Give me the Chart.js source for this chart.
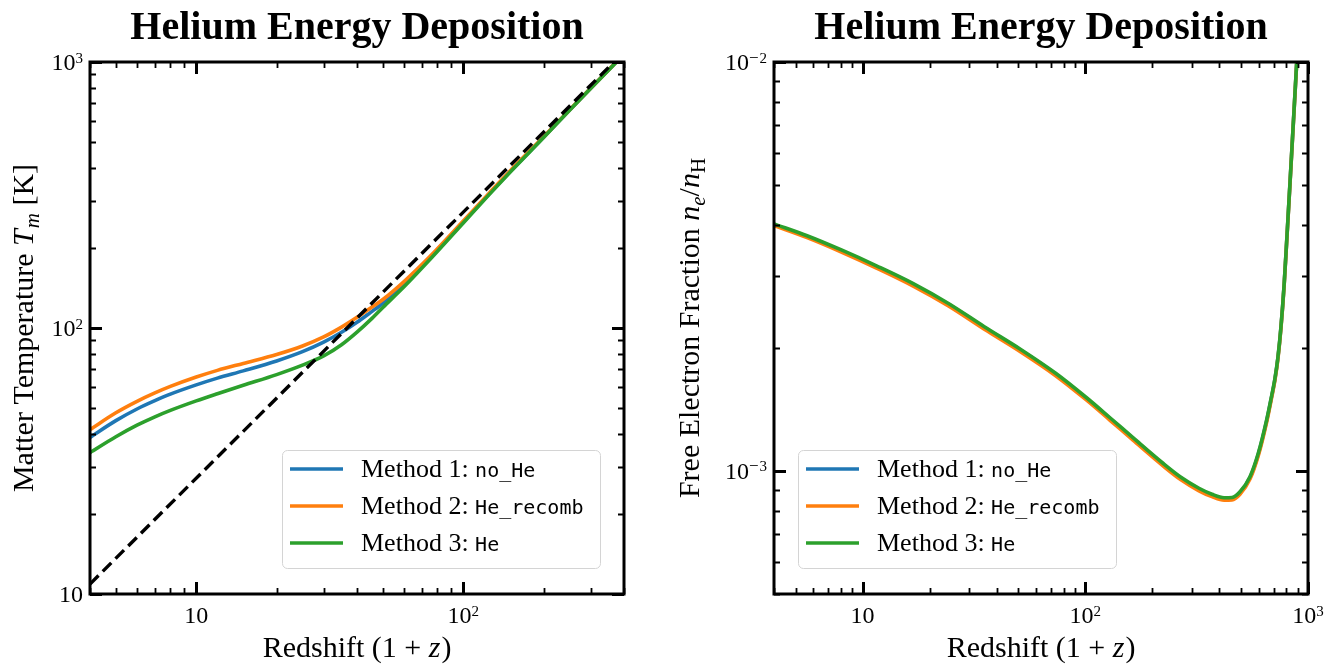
<!DOCTYPE html>
<html>
<head>
<meta charset="utf-8">
<title>Helium Energy Deposition</title>
<script src="https://cdn.jsdelivr.net/npm/chart.js@4.4.1/dist/chart.umd.min.js"></script>
<style>
  html, body { margin: 0; padding: 0; background: #fff; }
  #wrap { position: relative; width: 1338px; height: 665px; overflow: hidden; }
  #wrap canvas { position: absolute; top: 0; }
</style>
</head>
<body>
<div id="wrap">
  <canvas id="tmChart" width="669" height="665" style="left:0"></canvas>
  <canvas id="xeChart" width="669" height="665" style="left:669px"></canvas>
</div>
<script>
// ---- Matter temperature T_m [K] versus redshift (1+z) ----
const redshiftT  = [4, 5, 6, 7, 8, 10, 12, 15, 20, 25, 30, 35, 40, 45, 50, 60, 75, 100, 125, 150, 200, 250, 300, 400];
const tmNoHe     = [38.8, 44.85, 49.6, 53.3, 56.4, 61.1, 64.8, 69.0, 75.2, 81.5, 88.5, 96.4, 105.1, 114.5, 123.9, 146.0, 183.3, 250.1, 318.9, 387.6, 521.5, 659, 796, 1070];
const tmHeRecomb = [41.5, 48.0, 53.0, 57.0, 60.3, 65.4, 69.3, 73.6, 79.5, 85.6, 92.6, 100.8, 109.7, 119.0, 128.0, 149.5, 185.6, 252.5, 321.3, 390.5, 523, 660, 797, 1071];
const tmHe       = [34.0, 39.0, 43.1, 46.35, 49.0, 53.2, 56.6, 60.9, 66.8, 72.5, 78.5, 86.5, 96.5, 107.5, 119.5, 142.8, 180.9, 248.2, 317.2, 385.6, 520.5, 658, 795, 1069];
// CMB temperature reference line, T = 2.7255 (1+z)
const cmbRedshift = [4, 400];
const cmbTemp     = [10.9, 1090.2];

// ---- Free electron fraction n_e/n_H versus redshift (1+z) ----
const redshiftXe = [4, 5.63, 8.03, 11.6, 16.8, 24.3, 35.2, 50.9, 73.6, 100.7, 129.1, 163.7, 223.3, 268.8, 323.9, 370.4, 420, 455.6, 495, 549, 598, 652, 682, 711, 733, 756, 782, 804.5, 830, 856, 889.5, 920];
const xeNoHe     = [4.0e-3, 3.74e-3, 3.452e-3, 3.154e-3, 2.861e-3, 2.554e-3, 2.241e-3, 1.977e-3, 1.724e-3, 1.506e-3, 1.342e-3, 1.2e-3, 1.039e-3, 9.6e-4, 9.02e-4, 8.73e-4, 8.56e-4, 8.57e-4, 8.85e-4, 9.63e-4, 1.099e-3, 1.326e-3, 1.493e-3, 1.681e-3, 1.893e-3, 2.242e-3, 2.87e-3, 3.74e-3, 5.04e-3, 6.82e-3, 9.93e-3, 1.386e-2];
const xeHeRecomb = [3.98e-3, 3.72e-3, 3.43e-3, 3.13e-3, 2.835e-3, 2.531e-3, 2.22e-3, 1.959e-3, 1.709e-3, 1.493e-3, 1.33e-3, 1.189e-3, 1.029e-3, 9.51e-4, 8.94e-4, 8.65e-4, 8.48e-4, 8.49e-4, 8.77e-4, 9.55e-4, 1.089e-3, 1.315e-3, 1.482e-3, 1.671e-3, 1.883e-3, 2.232e-3, 2.86e-3, 3.73e-3, 5.03e-3, 6.8e-3, 9.91e-3, 1.383e-2];
const xeHe       = [4.02e-3, 3.76e-3, 3.47e-3, 3.17e-3, 2.875e-3, 2.567e-3, 2.252e-3, 1.987e-3, 1.733e-3, 1.514e-3, 1.349e-3, 1.206e-3, 1.044e-3, 9.65e-4, 9.07e-4, 8.77e-4, 8.6e-4, 8.61e-4, 8.89e-4, 9.68e-4, 1.104e-3, 1.332e-3, 1.499e-3, 1.688e-3, 1.9e-3, 2.25e-3, 2.88e-3, 3.754e-3, 5.06e-3, 6.84e-3, 9.96e-3, 1.39e-2];

// ---- Legend entries ----
const methodPrefix = ['Method 1: ', 'Method 2: ', 'Method 3: '];
const methodCode   = ['no_He', 'He_recomb', 'He'];
const methodColor  = ['#1f77b4', '#ff7f0e', '#2ca02c'];

// ---- Tick values and labels ----
const tmXTicks      = [10, 100];
const tmXTickLabels = ['10', '10^2'];
const tmYTicks      = [10, 100, 1000];
const tmYTickLabels = ['10', '10^2', '10^3'];
const xeXTicks      = [10, 100, 1000];
const xeXTickLabels = ['10', '10^2', '10^3'];
const xeYTicks      = [1e-3, 1e-2];
const xeYTickLabels = ['10^-3', '10^-2'];

const SERIF = '"Liberation Serif", "DejaVu Serif", serif';
const MONO  = '"DejaVu Sans Mono", "Liberation Mono", monospace';

function pts(xs, ys) { return xs.map((x, i) => ({ x: x, y: ys[i] })); }

function richWidth(ctx, parts) {
  let w = 0;
  for (const p of parts) { ctx.font = p.font; w += ctx.measureText(p.text).width + (p.gap || 0); }
  return w;
}
function drawRich(ctx, parts, x, y, align) {
  const w = richWidth(ctx, parts);
  let cx = align === 'center' ? x - w / 2 : align === 'right' ? x - w : x;
  ctx.textAlign = 'left';
  ctx.textBaseline = 'alphabetic';
  for (const p of parts) {
    ctx.font = p.font;
    ctx.fillText(p.text, cx, y + (p.dy || 0));
    cx += ctx.measureText(p.text).width + (p.gap || 0);
  }
}
// "10^3" -> base plus raised exponent; a negative exponent gets a wide math minus
function powerLabel(s) {
  const [base, exp] = s.split('^');
  const sup = '15px ' + SERIF;
  const parts = [{ text: base, font: '24px ' + SERIF }];
  if (exp) {
    if (exp[0] === '-') {
      parts.push({ text: '\u2212', font: '17px ' + SERIF, dy: -7.5, gap: 1 });
      parts.push({ text: exp.slice(1), font: sup, dy: -7.5 });
    } else {
      parts.push({ text: exp, font: sup, dy: -7.5 });
    }
  }
  return parts;
}
function minorTicks(min, max) {
  const out = [];
  for (let e = Math.floor(Math.log10(min)) - 1; e <= Math.ceil(Math.log10(max)); e++) {
    for (let m = 2; m <= 9; m++) {
      const v = m * Math.pow(10, e);
      if (v >= min * 0.9999 && v <= max * 1.0001) out.push(v);
    }
  }
  return out;
}

function makeFrame(cfg) {
  return {
    id: 'frame',
    afterDatasetsDraw(chart) {
      const ctx = chart.ctx, a = chart.chartArea, xs = chart.scales.x, ys = chart.scales.y;
      const inX = v => v >= xs.min * 0.9999 && v <= xs.max * 1.0001;
      const inY = v => v >= ys.min * 0.9999 && v <= ys.max * 1.0001;
      ctx.save();
      ctx.strokeStyle = '#000';
      ctx.fillStyle = '#000';
      ctx.lineCap = 'butt';

      // inward ticks on all four sides
      const xTicks = (vals, len, w) => {
        ctx.lineWidth = w; ctx.beginPath();
        for (const v of vals) {
          if (!inX(v)) continue;
          const p = Math.round(xs.getPixelForValue(v)) + 0.5;
          ctx.moveTo(p, a.bottom); ctx.lineTo(p, a.bottom - len);
          ctx.moveTo(p, a.top); ctx.lineTo(p, a.top + len);
        }
        ctx.stroke();
      };
      const yTicks = (vals, len, w) => {
        ctx.lineWidth = w; ctx.beginPath();
        for (const v of vals) {
          if (!inY(v)) continue;
          const p = Math.round(ys.getPixelForValue(v)) + 0.5;
          ctx.moveTo(a.left, p); ctx.lineTo(a.left + len, p);
          ctx.moveTo(a.right, p); ctx.lineTo(a.right - len, p);
        }
        ctx.stroke();
      };
      xTicks(minorTicks(xs.min, xs.max), 6, 1.8);
      yTicks(minorTicks(ys.min, ys.max), 6, 1.8);
      xTicks(cfg.xTicks, 12, 3);
      yTicks(cfg.yTicks, 12, 3);

      // spines
      ctx.lineWidth = 3;
      ctx.strokeRect(a.left, a.top, a.right - a.left, a.bottom - a.top);

      // tick labels
      cfg.xTicks.forEach((v, i) => {
        if (!inX(v)) return;
        drawRich(ctx, powerLabel(cfg.xLabels[i]), xs.getPixelForValue(v), a.bottom + 29, 'center');
      });
      cfg.yTicks.forEach((v, i) => {
        if (!inY(v)) return;
        drawRich(ctx, powerLabel(cfg.yLabels[i]), a.left - 7, ys.getPixelForValue(v) + 8, 'right');
      });

      // title
      ctx.font = 'bold 40px ' + SERIF;
      ctx.textAlign = 'center';
      ctx.textBaseline = 'alphabetic';
      ctx.fillText('Helium Energy Deposition', (a.left + a.right) / 2, 39);

      // x axis title
      const it = 'italic 30px ' + SERIF, rm = '30px ' + SERIF;
      drawRich(ctx, [
        { text: 'Redshift ', font: rm },
        { text: '(1 + ', font: rm },
        { text: 'z', font: it, gap: 1 },
        { text: ')', font: rm }
      ], (a.left + a.right) / 2, 657, 'center');

      // y axis title, rotated
      ctx.save();
      ctx.translate(a.left - cfg.yTitleOffset, (a.top + a.bottom) / 2);
      ctx.rotate(-Math.PI / 2);
      drawRich(ctx, cfg.yTitle, 0, 0, 'center');
      ctx.restore();

      // legend
      const bw = 318, bh = 118;
      const bx = cfg.legendSide === 'right' ? a.right - 24 - bw : a.left + 24;
      const by = a.bottom - 26 - bh;
      ctx.beginPath();
      ctx.roundRect(bx + 0.5, by + 0.5, bw, bh, 5);
      ctx.fillStyle = 'rgba(255,255,255,0.8)';
      ctx.fill();
      ctx.lineWidth = 1;
      ctx.strokeStyle = '#d4d4d4';
      ctx.stroke();
      methodPrefix.forEach((pre, i) => {
        const ry = by + 19 + i * 37;
        ctx.beginPath();
        ctx.strokeStyle = methodColor[i];
        ctx.lineWidth = 3.6;
        ctx.moveTo(bx + 8, ry); ctx.lineTo(bx + 61, ry);
        ctx.stroke();
        ctx.fillStyle = '#000';
        drawRich(ctx, [
          { text: pre, font: '26px ' + SERIF },
          { text: methodCode[i], font: '20px ' + MONO }
        ], bx + 79, ry + 8, 'left');
      });
      ctx.restore();
    }
  };
}

function lineSet(label, color, data, order) {
  return {
    label: label, data: data, borderColor: color, backgroundColor: color,
    borderWidth: 3.6, pointRadius: 0, fill: false, clip: 0,
    cubicInterpolationMode: 'monotone', order: order
  };
}

function baseOptions(pad, xr, yr) {
  return {
    responsive: false, animation: false, events: [],
    layout: { padding: pad },
    plugins: { legend: { display: false }, tooltip: { enabled: false }, title: { display: false } },
    scales: {
      x: { type: 'logarithmic', min: xr[0], max: xr[1], display: false },
      y: { type: 'logarithmic', min: yr[0], max: yr[1], display: false }
    }
  };
}

const itT = 'italic 30px ' + SERIF, rmT = '30px ' + SERIF, subT = 'italic 21px ' + SERIF, subR = '21px ' + SERIF;

new Chart(document.getElementById('tmChart'), {
  type: 'line',
  data: {
    datasets: [
      lineSet(methodPrefix[0] + methodCode[0], methodColor[0], pts(redshiftT, tmNoHe), 3),
      lineSet(methodPrefix[1] + methodCode[1], methodColor[1], pts(redshiftT, tmHeRecomb), 2),
      lineSet(methodPrefix[2] + methodCode[2], methodColor[2], pts(redshiftT, tmHe), 1),
      {
        label: 'T_CMB', data: pts(cmbRedshift, cmbTemp), borderColor: '#000',
        borderWidth: 3.4, borderDash: [12, 6], pointRadius: 0, fill: false, clip: 0, order: 0
      }
    ]
  },
  options: baseOptions({ left: 90, top: 62, right: 45, bottom: 71 }, [4, 400], [10, 1000]),
  plugins: [makeFrame({
    xTicks: tmXTicks, xLabels: tmXTickLabels, yTicks: tmYTicks, yLabels: tmYTickLabels,
    yTitleOffset: 57,
    yTitle: [
      { text: 'Matter Temperature ', font: rmT },
      { text: 'T', font: itT, gap: 1 },
      { text: 'm', font: subT, dy: 6 },
      { text: ' [K]', font: rmT }
    ],
    legendSide: 'right'
  })]
});

new Chart(document.getElementById('xeChart'), {
  type: 'line',
  data: {
    datasets: [
      lineSet(methodPrefix[0] + methodCode[0], methodColor[0], pts(redshiftXe, xeNoHe), 3),
      lineSet(methodPrefix[1] + methodCode[1], methodColor[1], pts(redshiftXe, xeHeRecomb), 2),
      lineSet(methodPrefix[2] + methodCode[2], methodColor[2], pts(redshiftXe, xeHe), 1)
    ]
  },
  options: baseOptions({ left: 105, top: 62, right: 30, bottom: 71 }, [4, 1000], [5e-4, 1e-2]),
  plugins: [makeFrame({
    xTicks: xeXTicks, xLabels: xeXTickLabels, yTicks: xeYTicks, yLabels: xeYTickLabels,
    yTitleOffset: 75,
    yTitle: [
      { text: 'Free Electron Fraction ', font: rmT },
      { text: 'n', font: itT },
      { text: 'e', font: subT, dy: 6 },
      { text: '/', font: rmT },
      { text: 'n', font: itT },
      { text: 'H', font: subR, dy: 6 }
    ],
    legendSide: 'left'
  })]
});
</script>
</body>
</html>
